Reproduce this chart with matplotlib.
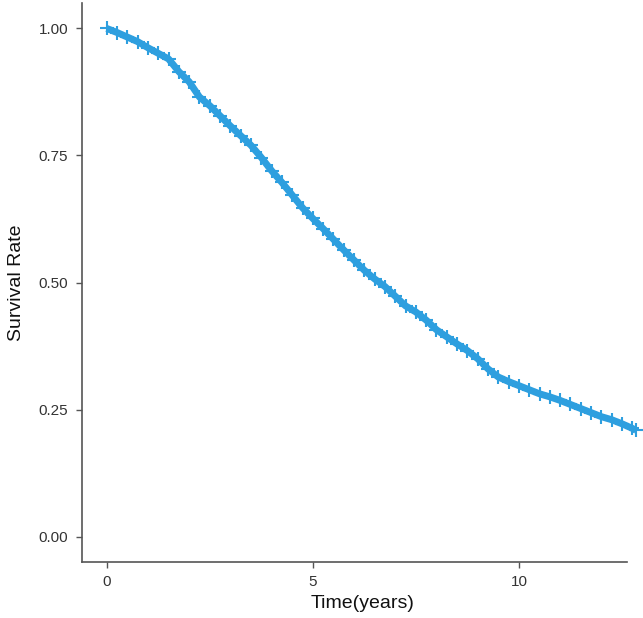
import matplotlib
matplotlib.use("Agg")
import matplotlib.pyplot as plt

plt.rcParams['font.family'] = ['Liberation Sans', 'DejaVu Sans']

# survival estimate (censor marks drawn at each point)
time_years = [0.0, 0.25, 0.5, 0.75, 1.0, 1.25, 1.5, 1.75, 2.0, 2.25, 2.5, 2.75,
              3.0, 3.25, 3.5, 3.75, 4.0, 4.25, 4.5, 4.75, 5.0, 5.25, 5.5, 5.75,
              6.0, 6.25, 6.5, 6.75, 7.0, 7.25, 7.5, 7.75, 8.0, 8.25, 8.5, 8.75,
              9.0, 9.25, 9.5, 9.75, 10.0, 10.25, 10.5, 10.75, 11.0, 11.25, 11.5,
              11.75, 12.0, 12.25, 12.5, 12.75, 12.84]
survival = [1.000, 0.992, 0.983, 0.974, 0.962, 0.951, 0.940, 0.915, 0.895, 0.865,
            0.848, 0.828, 0.808, 0.789, 0.770, 0.746, 0.720, 0.697, 0.672, 0.647,
            0.626, 0.606, 0.585, 0.564, 0.544, 0.524, 0.507, 0.492, 0.473, 0.454,
            0.442, 0.426, 0.407, 0.393, 0.379, 0.366, 0.350, 0.330, 0.314, 0.305,
            0.297, 0.289, 0.281, 0.275, 0.268, 0.260, 0.252, 0.244, 0.236, 0.230,
            0.222, 0.213, 0.209]

x_ticks = [0, 5, 10]
y_ticks = [0.00, 0.25, 0.50, 0.75, 1.00]

col = '#2E9FDF'

fig = plt.figure(figsize=(6.43, 6.18), dpi=100)
ax = fig.add_axes([0.1275, 0.0906, 0.8725, 0.9045])

ax.plot(time_years, survival, color=col, linewidth=5, solid_capstyle='butt',
        clip_on=False)
ax.plot(time_years, survival, linestyle='none', marker='+', color=col,
        markersize=10, markeredgewidth=1.5, clip_on=False)

ax.set_xlim(-0.6, 13.01)
ax.set_ylim(-0.05, 1.05)
ax.set_xticks(x_ticks)
ax.set_xticklabels([str(t) for t in x_ticks])
ax.set_yticks(y_ticks)
ax.set_yticklabels(['%.2f' % v for v in y_ticks])

for s in ['top', 'right']:
    ax.spines[s].set_visible(False)
for s in ['left', 'bottom']:
    ax.spines[s].set_color('#555555')
    ax.spines[s].set_linewidth(1.2)
ax.spines['bottom'].set_bounds(-0.6, 12.62)

ax.tick_params(colors='#555555', length=4, width=1.0, labelsize=11,
               labelcolor='#333333')
ax.tick_params(axis='y', pad=6)
ax.tick_params(axis='x', pad=5)
ax.set_xlabel("Time(years)", fontsize=14, color='#111111', labelpad=5)
ax.set_ylabel("Survival Rate", fontsize=14, color='#111111', labelpad=10)

fig.savefig("out.png", dpi=100)
